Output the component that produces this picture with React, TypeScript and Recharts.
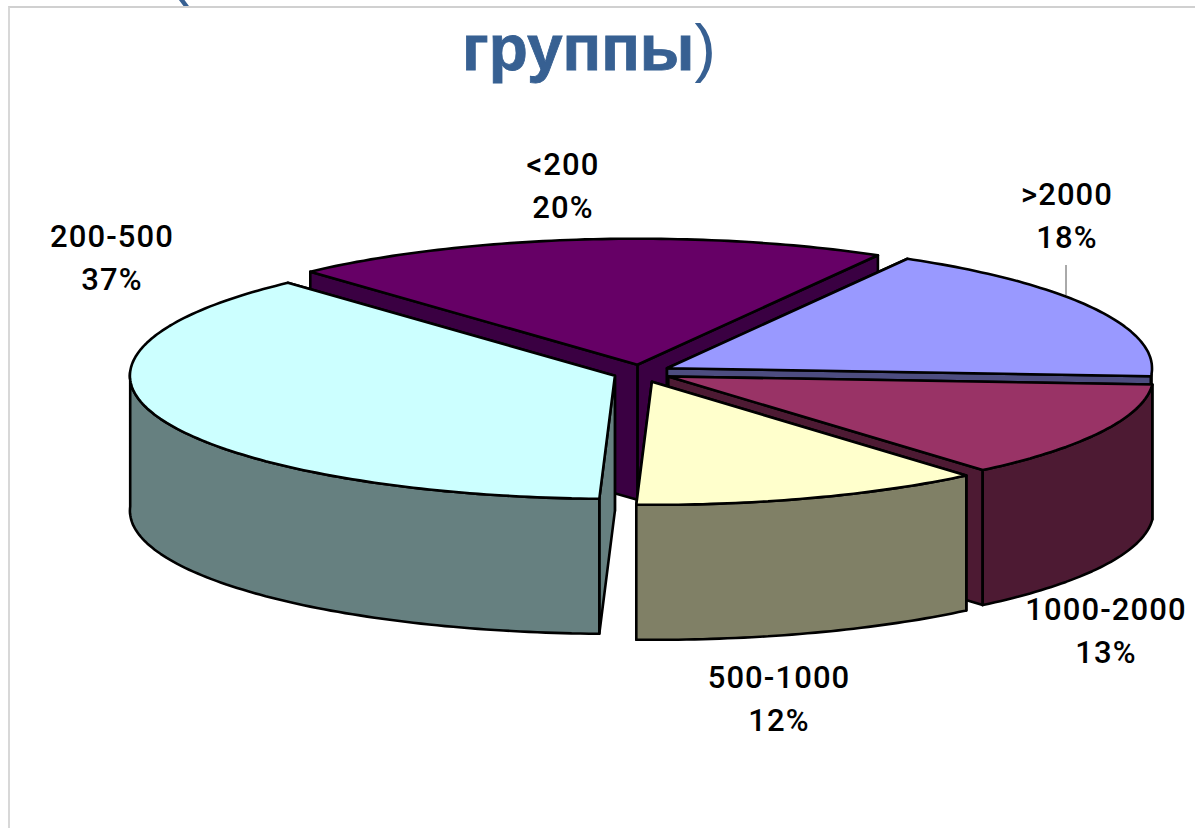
import React from "react";
import { PieChart, Pie } from "recharts";

const categories = ["<200", ">2000", "1000-2000", "500-1000", "200-500"];
const shares = [20, 18, 13, 12, 37];
const topColors = ["#660066", "#9999FF", "#993366", "#FFFFCC", "#CCFFFF"];
const sideColors = ["#3A0042", "#4D4D80", "#4D1A33", "#808066", "#668080"];
const titleText = "группы";

const labelCenters: Record<string, [number, number]> = {
  "<200": [563, 175],
  ">2000": [1067, 205],
  "1000-2000": [1106, 620],
  "500-1000": [779, 688],
  "200-500": [112, 247],
};

const W = 1195;
const H = 828;
const CX = 642;
const CY = 372;
const RX = 485;
const TILT_BACK = 126 / 485;
const TILT_FRONT = 123 / 485;
const DEPTH = 135;
const EXPLODE = 0.06;
const EXPLODE_Y_FRONT = 0.085;
const SKEW_DEG = 2.8;
const FONT = "Roboto, 'Liberation Sans', sans-serif";

const rows = categories.map((name, i) => ({
  name,
  value: shares[i],
  fill: topColors[i],
  side: sideColors[i],
}));

const RAD = Math.PI / 180;

function Slice3D(props: any) {
  const { cx, cy, outerRadius, startAngle, endAngle, fill, side } = props;
  const mid = ((startAngle + endAngle) / 2) * RAD;
  const sm = Math.sin(mid);
  const ox = cx + EXPLODE * outerRadius * Math.cos(mid);
  const oy = cy - (sm < 0 ? EXPLODE_Y_FRONT : EXPLODE) * outerRadius * TILT_FRONT * sm;
  const pt = (deg: number, drop = 0): [number, number] => {
    // slight perspective: the far rim of the pie turns a little clockwise
    const s0 = Math.sin(deg * RAD);
    const t = (deg - SKEW_DEG * Math.sqrt(Math.max(0, (1 + s0) / 2))) * RAD;
    const s = Math.sin(t);
    return [
      ox + outerRadius * Math.cos(t),
      oy - outerRadius * (s > 0 ? TILT_BACK : TILT_FRONT) * s + drop,
    ];
  };
  const lo = Math.min(startAngle, endAngle);
  const hi = Math.max(startAngle, endAngle);
  const toD = (pts: [number, number][]) =>
    "M" + pts.map((p) => `${p[0].toFixed(1)},${p[1].toFixed(1)}`).join("L") + "Z";

  const arc: [number, number][] = [];
  for (let a = lo; a < hi; a += 1) arc.push(pt(a));
  arc.push(pt(hi));

  // outer wall: only the part of the rim that faces the viewer
  const front: [number, number][] = [];
  for (let a = lo; a <= hi; a += 1) {
    const n = ((a % 360) + 360) % 360;
    if (n >= 180) front.push(pt(a));
  }
  const last = ((hi % 360) + 360) % 360;
  if (last >= 180 || last === 0) front.push(pt(hi));
  const frontWall =
    front.length > 1
      ? [...front, ...[...front].reverse().map((p) => [p[0], p[1] + DEPTH] as [number, number])]
      : null;

  const common = { stroke: "#000", strokeWidth: 2.6, strokeLinejoin: "round" as const };
  const wall = (deg: number) => {
    const e = pt(deg);
    return toD([[ox, oy], e, [e[0], e[1] + DEPTH], [ox, oy + DEPTH]]);
  };
  // the wall whose rim end sits nearer the viewer is painted last
  const walls = pt(lo)[1] < pt(hi)[1] ? [lo, hi] : [hi, lo];
  return (
    <g>
      <path d={wall(walls[0])} fill={side} {...common} />
      <path d={wall(walls[1])} fill={side} {...common} />
      {frontWall && <path d={toD(frontWall)} fill={side} {...common} />}
      <path d={toD([[ox, oy], ...arc])} fill={fill} {...common} />
    </g>
  );
}

function SliceLabel(props: any) {
  const { name, value } = props;
  const [x, y] = labelCenters[name];
  const style = { fontFamily: FONT, fontWeight: 500, fontSize: 31, letterSpacing: 1.1 };
  return (
    <g>
      {name === ">2000" && <line x1={x - 1} y1={265} x2={x - 1} y2={295} stroke="#555" strokeWidth={1} />}
      <text x={x} y={y} textAnchor="middle" fill="#000" style={style}>
        {name}
      </text>
      <text x={x} y={y + 43} textAnchor="middle" fill="#000" style={style}>
        {value}%
      </text>
    </g>
  );
}

export default function App() {
  return (
    <div style={{ position: "absolute", left: 0, top: 0, width: W, height: H, overflow: "hidden", background: "#fff" }}>
      <div style={{ position: "absolute", left: 8, top: 6, right: 0, bottom: 0, borderTop: "2px solid #d0d0d0", borderLeft: "2px solid #d8d8d8" }} />
      <div style={{ position: "absolute", left: 168, top: -66, fontFamily: "'Liberation Sans', sans-serif", fontSize: 64, lineHeight: "74px", color: "#376092" }}>(</div>
      <div style={{ position: "absolute", left: 462, top: 11, fontFamily: "'Liberation Sans', sans-serif", fontSize: 64, lineHeight: "74px", color: "#376092", whiteSpace: "nowrap" }}>
        <b style={{ WebkitTextStroke: "0.8px #376092" }}>{titleText}</b>
        <span style={{ fontFamily: "'Liberation Sans Narrow', 'Liberation Sans', sans-serif" }}>)</span>
      </div>
      <PieChart width={W} height={H} style={{ position: "absolute", left: 0, top: 0 }} margin={{ top: 0, right: 0, bottom: 0, left: 0 }}>
        <Pie
          data={rows}
          dataKey="value"
          nameKey="name"
          cx={CX}
          cy={CY}
          innerRadius={0}
          outerRadius={RX}
          startAngle={135}
          endAngle={-225}
          paddingAngle={0}
          isAnimationActive={false}
          shape={Slice3D}
          label={SliceLabel}
          labelLine={false}
          rootTabIndex={-1}
        />
      </PieChart>
    </div>
  );
}
